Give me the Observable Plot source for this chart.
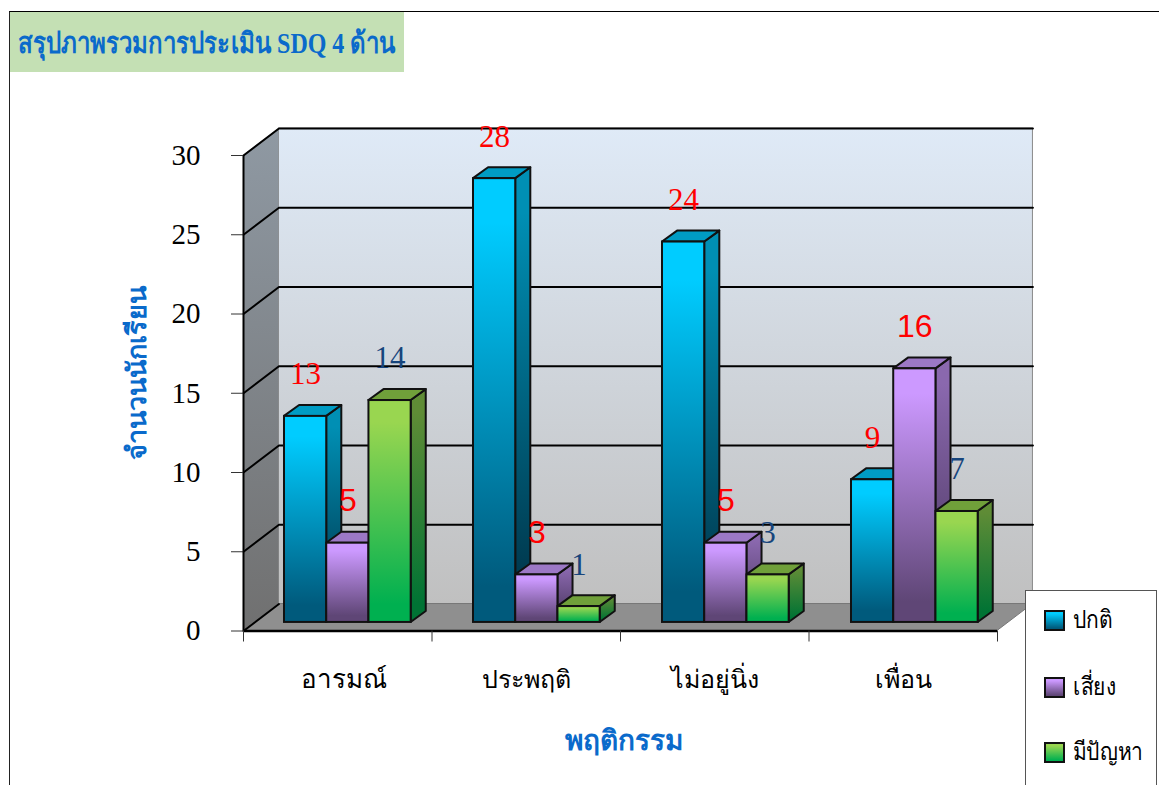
<!DOCTYPE html>
<html>
<head>
<meta charset="utf-8">
<script src="https://cdn.jsdelivr.net/npm/d3@7"></script>
<script src="https://cdn.jsdelivr.net/npm/@observablehq/plot@0.6"></script>
<style>
html,body{margin:0;padding:0;background:#fff;overflow:hidden}
#page{position:relative;width:1159px;height:785px;overflow:hidden;font-family:'Liberation Serif','Noto Sans',serif}
#frame{position:absolute;left:9px;top:11px;width:1150px;height:774px;border-top:1px solid #000;border-left:1px solid #222;box-sizing:border-box}
#chart{position:absolute;left:0;top:0}
#chart svg{display:block}
#title{position:absolute;left:10px;top:12px;width:394px;height:60px;background:#c4e0b4;color:#0a6acb;font-weight:bold;font-size:29px;line-height:62px;box-sizing:border-box;white-space:nowrap;overflow:hidden}
#title span{display:inline-block;margin-left:8px;transform:scaleX(0.827);transform-origin:left center}
#legend{position:absolute;left:1025px;top:590px;width:132px;height:200px;background:#fff;border:1px solid #555;box-sizing:border-box}
.key{position:absolute;left:18px;width:21px;height:21px;border:2.5px solid #111;box-sizing:border-box}
.lab{position:absolute;left:47px;font-size:25px;line-height:30px;color:#000;white-space:nowrap;transform:scaleX(0.84);transform-origin:left center}
</style>
</head>
<body>
<div id="page">
<div id="frame"></div>
<div id="chart"></div>
<div id="title"></div>
<div id="legend"></div>
</div>
<script>
const categories = ["อารมณ์", "ประพฤติ", "ไม่อยู่นิ่ง", "เพื่อน"];
const seriesNames = ["ปกติ", "เสี่ยง", "มีปัญหา"];
const normal = [13, 28, 24, 9];
const risk = [5, 3, 5, 16];
const problem = [14, 1, 3, 7];
const yTicks = [0, 5, 10, 15, 20, 25, 30];
const titleText = "สรุปภาพรวมการประเมิน SDQ 4 ด้าน";
const yTitle = "จำนวนนักเรียน";
const xTitle = "พฤติกรรม";
const gradients = {
  f0: ["#00ccff", "#005a7c"], s0: ["#008fb4", "#00374c"], t0: ["#009cc4", "#009cc4"],
  f1: ["#cc99ff", "#5f4676"], s1: ["#8a68ae", "#4b3760"], t1: ["#9c78c6", "#9c78c6"],
  f2: ["#99d650", "#00b050"], s2: ["#5f8c36", "#007334"], t2: ["#70a03a", "#70a03a"],
  wall: ["#dfeaf7", "#c0c0c0"], side: ["#8f99a3", "#707070"]
};
const seriesValues = [normal, risk, problem];

// projection of the 3-D box, in scale units
const wallDx = 0.188, wallDy = 1.7;
const barStep = 1.00265, barOff = 0.2175, barW = 0.224, barDx = 0.08, barDy = 0.69, barBase = 0.54;

const bars = [];
categories.forEach((c, i) => seriesValues.forEach((vals, s) => {
  const x0 = i * barStep + barOff + s * barW;
  bars.push({i, s, value: vals[i], x0, x1: x0 + barW, b: barBase, t: barBase + vals[i]});
}));

const quad = (id, fill, p) => [
  {id, fill, x1: p[0][0], y1: p[0][1], x2: p[3][0], y2: p[3][1]},
  {id, fill, x1: p[1][0], y1: p[1][1], x2: p[2][0], y2: p[2][1]}
];
const sides = bars.flatMap((d, k) => quad(k, `url(#s${d.s})`, [[d.x1, d.t], [d.x1 + barDx, d.t + barDy], [d.x1 + barDx, d.b + barDy], [d.x1, d.b]]));
const tops = bars.flatMap((d, k) => quad(k, `url(#t${d.s})`, [[d.x0, d.t], [d.x1, d.t], [d.x1 + barDx, d.t + barDy], [d.x0 + barDx, d.t + barDy]]));
const quadMark = (rows, o = {}) => Plot.area(rows, {x1: "x1", y1: "y1", x2: "x2", y2: "y2", z: "id", fill: {value: "fill", scale: null}, curve: "linear", ...o});

const gridRows = yTicks.flatMap(v => v === 0
  ? [{v, x: 0, y: v}, {v, x: wallDx, y: wallDy}]
  : [{v, x: 0, y: v}, {v, x: wallDx, y: v + wallDy}, {v, x: 4 + wallDx, y: v + wallDy}]);

function defs() {
  const ns = "http://www.w3.org/2000/svg";
  const d = document.createElementNS(ns, "defs");
  for (const [id, c] of Object.entries(gradients)) {
    const g = document.createElementNS(ns, "linearGradient");
    g.setAttribute("id", id);
    g.setAttribute("x1", 0); g.setAttribute("x2", 0); g.setAttribute("y1", 0); g.setAttribute("y2", 1);
    const flat = id === "wall" || id === "side" ? [0, 1] : [0.1, 0.92];
    [[flat[0], c[0]], [flat[1], c[1]]].forEach(([o, col]) => {
      const s = document.createElementNS(ns, "stop");
      s.setAttribute("offset", o); s.setAttribute("stop-color", col);
      g.appendChild(s);
    });
    d.appendChild(g);
  }
  const g = document.createElementNS(ns, "g");
  g.appendChild(d);
  return g;
}

const serif = "Liberation Serif, Noto Sans, serif";
const sans = "Liberation Sans, Noto Sans, sans-serif";
const isSansLabel = d => d.s === 1;
const labelColor = d => d.s === 2 ? "#17457c" : "#ff0000";

const plot = Plot.plot({
  width: 1159, height: 785,
  marginLeft: 0, marginRight: 0, marginTop: 0, marginBottom: 0,
  x: {domain: [0, 4], range: [243, 997], axis: null},
  y: {domain: [0, 30], range: [630.5, 155], axis: null},
  style: {background: "transparent", fontFamily: serif},
  marks: [
    defs,
    // back wall, left wall, floor
    Plot.rect([{}], {x1: wallDx, x2: 4 + wallDx, y1: wallDy, y2: 30 + wallDy, fill: "url(#wall)", stroke: "#8a8a8a", strokeWidth: 1}),
    quadMark(quad(0, "url(#side)", [[0, 30], [wallDx, 30 + wallDy], [wallDx, wallDy], [0, 0]])),
    quadMark(quad(0, "#8f8f8f", [[0, 0], [wallDx, wallDy], [4 + wallDx, wallDy], [4, 0]]), {stroke: "#777", strokeWidth: 1}),
    Plot.line(gridRows, {x: "x", y: "y", z: "v", stroke: "#000", strokeWidth: 2, curve: "linear"}),
    Plot.ruleX([0], {y1: 0, y2: 30, stroke: "#000", strokeWidth: 2}),
    Plot.ruleY([0], {x1: 0, x2: 4, stroke: "#000", strokeWidth: 2.5}),
    // axes
    Plot.axisY(yTicks, {x: 0, anchor: "left", tickSize: 12, tickPadding: 31, fontSize: 29, fontFamily: serif, fill: "#000", stroke: "#333", tickFormat: d => d, label: null}),
    Plot.axisX([0, 1, 2, 3, 4], {y: 0, anchor: "bottom", tickSize: 11, tickFormat: () => "", stroke: "#333", label: null}),
    // bars
    quadMark(sides, {stroke: "#111", strokeWidth: 2, strokeLinejoin: "round"}),
    quadMark(tops, {stroke: "#111", strokeWidth: 2, strokeLinejoin: "round"}),
    Plot.rect(bars, {x1: "x0", x2: "x1", y1: "b", y2: "t", fill: {value: d => `url(#f${d.s})`, scale: null}, stroke: "#111", strokeWidth: 2}),
    // value labels
    Plot.text(bars.filter(d => !isSansLabel(d)), {x: d => (d.x0 + d.x1) / 2, y: "t", text: "value", dy: -42, fill: {value: labelColor, scale: null}, fontSize: 31, fontFamily: serif}),
    Plot.text(bars.filter(isSansLabel), {x: d => (d.x0 + d.x1) / 2, y: "t", text: "value", dy: -42, fill: {value: labelColor, scale: null}, fontSize: 32, fontFamily: sans}),
    // category labels and titles
    Plot.text(categories.slice(0, 1), {x: () => 0.5, y: () => 0, text: d => d, dx: 6, dy: 49, fontSize: 26, fontFamily: serif, fill: "#000"}),
    Plot.text(categories.slice(1), {x: (d, i) => i + 1.5, y: () => 0, text: d => d, dy: 49, fontSize: 25, fontFamily: serif, fill: "#000"}),
    Plot.text([xTitle], {x: () => 2.02, y: () => 0, text: d => d, dy: 110, fontSize: 28, fontWeight: "bold", fontFamily: serif, fill: "#0a6acb"}),
    Plot.text([yTitle], {frameAnchor: "left", textAnchor: "middle", text: d => d, rotate: -90, dx: 137, dy: -20, fontSize: 27, fontWeight: "bold", fontFamily: serif, fill: "#0a6acb"})
  ]
});
document.getElementById("chart").appendChild(plot);
const ts = document.createElement("span");
ts.textContent = titleText;
document.getElementById("title").appendChild(ts);
const legend = document.getElementById("legend");
const keyTops = [19, 86, 151];
seriesNames.forEach((n, s) => {
  const k = document.createElement("div");
  k.className = "key";
  k.style.top = keyTops[s] + "px";
  const c = gradients["f" + s];
  k.style.background = `linear-gradient(${c[0]} 10%,${c[1]} 95%)`;
  legend.appendChild(k);
  const l = document.createElement("div");
  l.className = "lab";
  l.style.top = (keyTops[s] - 5) + "px";
  l.textContent = n;
  legend.appendChild(l);
});
</script>
</body>
</html>
